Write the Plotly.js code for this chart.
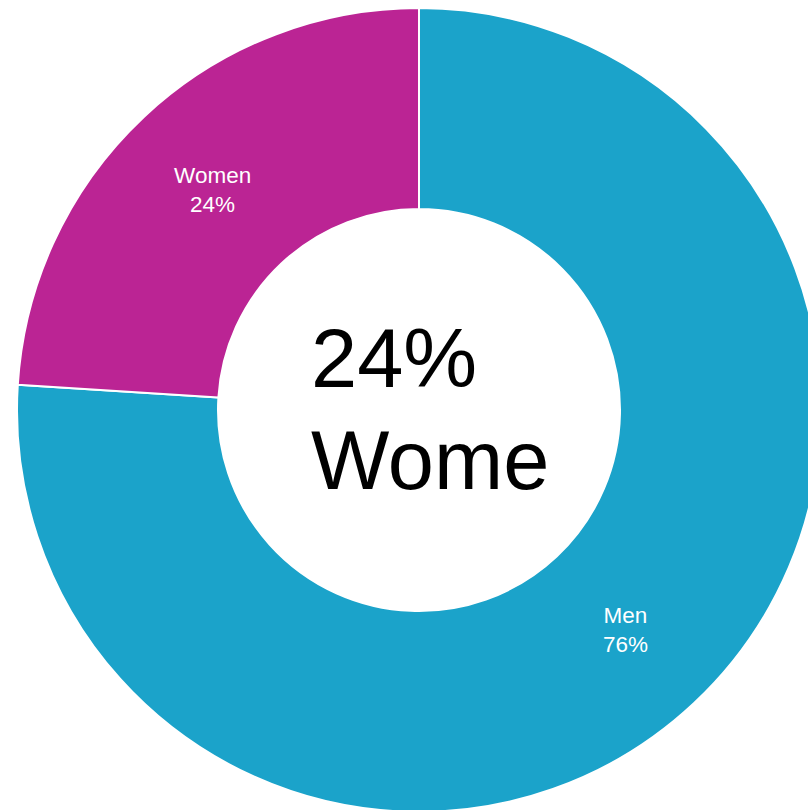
<!DOCTYPE html>
<html>
<head>
<meta charset="utf-8">
<script src="https://cdn.plot.ly/plotly-3.0.1.min.js"></script>
<style>
html,body{margin:0;padding:0;overflow:hidden;background:#fff;}
#chart{width:840px;height:830px;}
</style>
</head>
<body>
<div id="chart"></div>
<script>
var labels = ["Men", "Women"];
var values = [76, 24];
var colors = ["#1ba3ca", "#bb2494"];
var centerPercent = "24%";
var centerLabel = "Wome";

var W = 840, H = 830;
var cx = 419, cy = 410, r = 402;

var trace = {
  type: "pie",
  labels: labels,
  values: values,
  hole: 0.5,
  sort: false,
  direction: "clockwise",
  rotation: 0,
  textinfo: "label+percent",
  textposition: "inside",
  insidetextorientation: "horizontal",
  textfont: {family: "Liberation Sans, Arial, sans-serif", size: 22.5, color: "#ffffff"},
  marker: {colors: colors, line: {color: "#ffffff", width: 2}},
  hoverinfo: "none",
  domain: {x: [(cx - r) / W, (cx + r) / W], y: [1 - (cy + r) / H, 1 - (cy - r) / H]}
};

var layout = {
  width: W,
  height: H,
  margin: {l: 0, r: 0, t: 0, b: 0, pad: 0},
  showlegend: false,
  paper_bgcolor: "#ffffff",
  annotations: [
    {text: centerPercent, xref: "paper", yref: "paper", x: 309 / W, y: 1 - 358 / H,
     xanchor: "left", yanchor: "middle", showarrow: false, align: "left",
     font: {family: "Liberation Sans, Arial, sans-serif", size: 83, color: "#000000"}},
    {text: centerLabel, xref: "paper", yref: "paper", x: 309 / W, y: 1 - 460 / H,
     xanchor: "left", yanchor: "middle", showarrow: false, align: "left",
     font: {family: "Liberation Sans, Arial, sans-serif", size: 83, color: "#000000"}}
  ]
};

Plotly.newPlot("chart", [trace], layout, {displayModeBar: false, staticPlot: true});
</script>
</body>
</html>
